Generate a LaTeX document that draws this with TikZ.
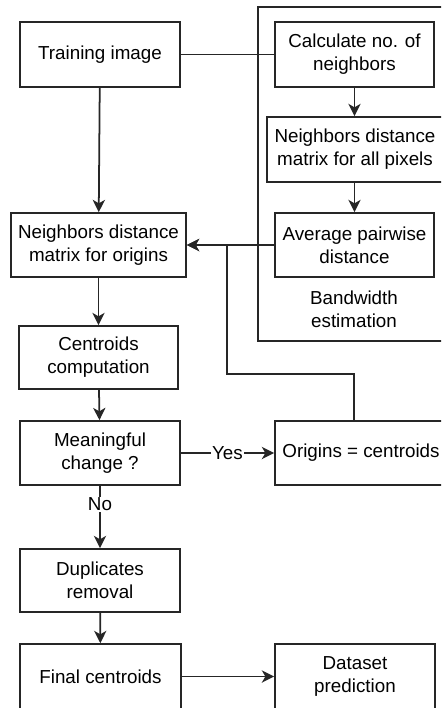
\documentclass[tikz,border=0pt]{standalone}
\usepackage{fontspec}
\setmainfont{Liberation Sans}
\usetikzlibrary{positioning, arrows.meta, calc}
\tikzset{
	stepbox/.style={
			shape=rectangle,
			draw=black!85,
			line width=1pt,
			fill=white,
			align=center,
			inner sep=0pt,
			font=\fontsize{10.7}{13}\selectfont
		},
	plaintext/.style={
			align=center,
			inner sep=1pt,
			font=\fontsize{10.7}{13}\selectfont
		},
	edgelabel/.style={
			plaintext,
			fill=white,
			inner sep=0.5pt
		},
	flow/.style={
			line width=1pt,
			draw=black!85
		}
}
\begin{document}
\begin{tikzpicture}[x=0.02cm, y=-0.02cm, >={Stealth[length=7pt, width=7pt, inset=2pt]}]
	\useasboundingbox (0,0) rectangle (441,708);
	\clip (0,0) rectangle (441,708);

	% bandwidth estimation frame
	\draw[flow] (258,7) rectangle (448,341);
	\node[plaintext] (bwlabel) at (354,309) {Bandwidth\\estimation};

	\node[stepbox, minimum width=3.2cm, minimum height=1.3cm] (train) at (100,54.5) {Training image};
	\node[stepbox, minimum width=3.18cm, minimum height=1.3cm] (calc) at (354.5,54.5) {Calculate no. of\\neighbors};
	\node[stepbox, minimum width=3.52cm, minimum height=1.3cm] (allpix) at (355,149.5) {Neighbors distance\\matrix for all pixels};
	\node[stepbox, minimum width=3.18cm, minimum height=1.28cm] (avg) at (354.5,245) {Average pairwise\\distance};
	\node[stepbox, minimum width=3.5cm, minimum height=1.28cm] (origin) at (98.5,245) {Neighbors distance\\matrix for origins};
	\node[stepbox, minimum width=3.18cm, minimum height=1.26cm] (cent) at (98.5,357.5) {Centroids\\computation};
	\node[stepbox, minimum width=3.2cm, minimum height=1.28cm] (mean) at (100,453) {Meaningful\\change ?};
	\node[stepbox, minimum width=3.44cm, minimum height=1.28cm] (oreq) at (361,453) {Origins = centroids};
	\node[stepbox, minimum width=3.2cm, minimum height=1.26cm] (dup) at (100,580.5) {Duplicates\\removal};
	\node[stepbox, minimum width=3.22cm, minimum height=1.3cm] (final) at (100.5,676.5) {Final centroids};
	\node[stepbox, minimum width=3.2cm, minimum height=1.3cm] (pred) at (355,676.5) {Dataset\\prediction};

	\coordinate (fbtop) at (354,421);
	\coordinate (fbturn) at (227,374);

	\draw[flow] (train) -- (calc);
	\draw[->, flow] (train) -- (origin);
	\draw[->, flow] (calc) -- (calc |- allpix.north);
	\draw[->, flow] (allpix.south -| avg) -- (avg);
	\draw[->, flow] (avg) -- (origin);
	\draw[->, flow] (origin) -- (cent);
	\draw[->, flow] (cent) -- (mean);
	\draw[->, flow] (mean) -- node[edgelabel] {Yes} (oreq);
	\draw[->, flow] (fbtop) |- (fbturn) |- (origin.east);
	\draw[->, flow] (mean) -- node[edgelabel, pos=0.3] {No} (dup);
	\draw[->, flow] (dup) -- (final);
	\draw[->, flow] (final) -- (pred);
\end{tikzpicture}
\end{document}
